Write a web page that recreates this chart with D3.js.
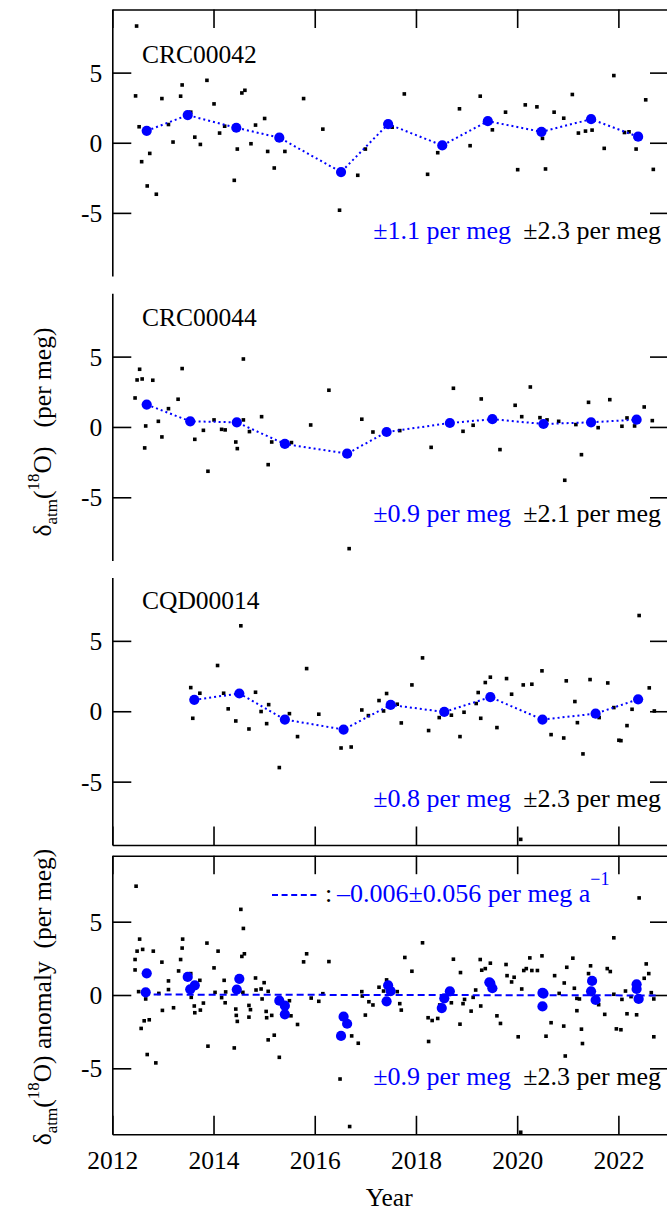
<!DOCTYPE html>
<html><head><meta charset="utf-8">
<script src="https://cdn.jsdelivr.net/npm/d3@7"></script>
<style>
body{margin:0;background:#fff}
svg{display:block}
text{font-family:"Liberation Serif","Times New Roman",Times,serif;white-space:pre}
</style>
</head><body>
<svg id="chart" width="667" height="1214"></svg>
<script>
// ---------------- DATA ----------------
const xDomain = [2012, 2023];
const yDomain = [-9.5, 9.5];
const xTickValues = [2012, 2014, 2016, 2018, 2020, 2022];
const yTickValues = [-5, 0, 5];

const panelNames = ["CRC00042", "CRC00044", "CQD00014", ""];
const meanErrors = ["±1.1 per meg", "±0.9 per meg", "±0.8 per meg", "±0.9 per meg"];
const sampleErrors = ["±2.3 per meg", "±2.1 per meg", "±2.3 per meg", "±2.3 per meg"];

const crc42Samples = [
[2012.48,8.32],[2012.46,3.34],[2012.53,1.14],[2012.58,-1.35],[2012.69,-3.08],[2012.74,-0.76],[2012.87,-3.67],
[2012.98,3.15],[2013.11,1.30],[2013.20,0.05],[2013.35,3.32],[2013.38,4.12],[2013.55,2.18],[2013.63,0.40],
[2013.74,-0.12],[2013.87,4.45],[2014.01,2.77],[2014.12,0.69],[2014.22,1.18],[2014.41,-2.68],[2014.47,-0.45],
[2014.56,3.55],[2014.62,3.74],[2014.74,-0.07],[2014.83,1.26],[2015.01,1.73],[2015.07,-0.62],[2015.20,-1.80],
[2015.41,-0.62],[2015.78,3.15],[2016.16,0.97],[2016.49,-4.81],[2016.85,-2.32],[2017.00,-0.45],
[2017.53,1.11],[2017.77,3.48],[2018.23,-2.25],[2018.43,-0.71],[2018.86,2.42],[2019.07,-0.21],[2019.27,3.32],
[2019.51,0.92],[2019.77,2.18],[2020.01,-1.92],[2020.16,2.70],[2020.39,2.56],[2020.50,0.31],[2020.56,-1.87],
[2020.73,2.18],[2020.92,1.75],[2021.09,3.44],[2021.21,0.69],[2021.35,0.83],[2021.48,0.90],[2021.72,-0.40],
[2021.91,4.79],[2022.12,0.73],[2022.21,0.78],[2022.35,-0.45],[2022.54,3.06],[2022.69,-1.90]
];
const crc42Means = [
[2012.68,0.85],[2013.49,1.97],[2014.45,1.07],[2015.30,0.36],[2016.52,-2.09],[2017.45,1.33],
[2018.52,-0.19],[2019.42,1.54],[2020.48,0.78],[2021.46,1.68],[2022.39,0.43]
];

const crc44Samples = [
[2012.45,2.06],[2012.49,3.34],[2012.54,4.10],[2012.59,3.41],[2012.64,-1.49],[2012.66,0.07],[2012.80,3.32],
[2012.91,0.40],[2012.98,-0.71],[2013.11,1.30],[2013.30,1.97],[2013.38,4.15],[2013.63,-0.88],[2013.80,-0.24],
[2013.89,-3.15],[2014.01,0.50],[2014.16,-0.17],[2014.23,-0.21],[2014.44,-1.07],[2014.47,-1.54],[2014.59,4.83],
[2014.59,0.50],[2014.71,-0.33],[2014.95,0.73],[2015.08,-2.68],[2015.15,-1.07],[2015.54,-1.11],[2015.92,0.14],
[2016.28,2.61],[2016.68,-8.65],[2016.93,0.55],[2017.15,-0.36],[2017.68,-0.26],[2018.30,-1.45],[2018.74,2.75],
[2018.93,-0.31],[2019.13,0.12],[2019.29,1.99],[2019.66,-1.61],[2019.96,1.54],[2020.09,0.73],[2020.26,2.84],
[2020.45,0.66],[2020.59,0.50],[2020.82,0.40],[2020.94,-3.79],[2021.16,0.17],[2021.27,-1.97],[2021.41,1.75],
[2021.60,-0.05],[2021.83,1.94],[2022.07,0.05],[2022.17,0.64],[2022.32,0.07],[2022.51,1.42],[2022.67,0.45]
];
const crc44Means = [
[2012.68,1.59],[2013.54,0.40],[2014.46,0.33],[2015.41,-1.21],[2016.64,-1.90],[2017.42,-0.36],
[2018.67,0.28],[2019.51,0.55],[2020.52,0.21],[2021.46,0.33],[2022.36,0.52]
];

const cqd14Samples = [
[2013.55,1.68],[2013.59,-0.50],[2013.73,1.28],[2014.08,3.25],[2014.20,1.28],[2014.29,0.17],[2014.44,-0.69],
[2014.54,6.07],[2014.70,-1.26],[2014.83,1.35],[2014.94,-0.02],[2015.05,-0.88],[2015.09,0.47],[2015.30,-4.00],
[2015.50,-0.17],[2015.66,-1.80],[2015.84,3.03],[2016.08,-0.21],[2016.52,-2.61],[2016.72,-2.54],[2016.93,0.09],
[2017.06,-0.31],[2017.27,0.76],[2017.36,0.02],[2017.42,1.26],[2017.63,0.50],[2017.71,-0.83],[2017.92,1.87],
[2018.13,3.79],[2018.25,-1.37],[2018.46,-0.45],[2018.70,-0.28],[2018.87,-1.80],[2018.95,-0.07],[2019.19,0.55],
[2019.23,1.33],[2019.28,-0.50],[2019.37,2.04],[2019.47,2.42],[2019.60,-1.16],[2019.79,2.32],[2019.89,1.21],
[2020.07,-9.10],[2020.12,1.87],[2020.29,1.92],[2020.49,2.87],[2020.67,-1.66],[2020.92,-1.90],[2020.97,2.16],
[2021.14,0.69],[2021.19,-0.81],[2021.30,-3.03],[2021.44,2.25],[2021.62,-0.45],[2021.79,2.01],[2021.91,0.26],
[2022.01,-2.06],[2022.05,-2.09],[2022.17,-1.02],[2022.27,0.14],[2022.41,6.80],[2022.61,1.66],[2022.71,0.02]
];
const cqd14Means = [
[2013.62,0.81],[2014.51,1.26],[2015.41,-0.59],[2016.57,-1.30],[2017.50,0.45],[2018.56,-0.05],
[2019.47,1.00],[2020.50,-0.59],[2021.55,-0.17],[2022.39,0.85]
];

const anomalySamples = [
[2012.47,7.42],[2012.54,3.81],[2012.49,2.99],[2012.60,3.11],[2012.45,2.42],[2012.45,1.71],[2012.52,0.23],
[2012.66,-0.27],[2012.57,-2.28],[2012.63,-1.76],[2012.73,-1.69],[2012.69,-4.06],[2012.86,-4.63],[2012.81,2.99],
[2012.92,0.11],[2012.98,2.24],[2012.99,-1.05],[2013.11,0.96],[2013.11,0.37],[2013.21,-0.87],[2013.31,1.64],
[2013.35,2.42],[2013.38,3.20],[2013.39,3.81],[2013.55,1.46],[2013.56,-0.16],[2013.62,-0.75],[2013.63,-1.21],
[2013.73,1.00],[2013.74,-1.03],[2013.80,-0.55],[2013.87,3.54],[2013.89,-3.49],[2014.01,1.85],[2014.03,0.18],
[2014.09,2.99],[2014.16,-0.18],[2014.21,1.00],[2014.23,-0.53],[2014.24,0.21],[2014.41,-3.61],[2014.44,-0.96],
[2014.45,-1.39],[2014.47,-1.80],[2014.54,5.84],[2014.59,4.54],[2014.56,2.63],[2014.61,2.81],[2014.58,0.18],
[2014.70,-0.71],[2014.73,-1.00],[2014.70,-1.51],[2014.83,1.16],[2014.84,0.34],[2014.94,0.41],[2014.96,-0.27],
[2015.00,0.84],[2015.04,-1.12],[2015.05,-1.55],[2015.08,0.25],[2015.08,-3.06],[2015.15,-1.39],[2015.20,-2.74],
[2015.30,-4.25],[2015.50,-0.39],[2015.53,-1.42],[2015.66,-2.01],[2015.78,2.26],[2015.84,2.81],[2015.93,-0.21],
[2016.08,-0.43],[2016.16,0.09],[2016.28,2.28],[2016.50,-5.73],[2016.69,-8.97],[2016.73,-2.79],[2016.86,-3.29],
[2016.93,0.23],[2016.94,-0.07],[2017.00,-1.37],[2017.07,-0.46],[2017.15,-0.68],[2017.27,0.53],[2017.36,0.27],
[2017.42,1.03],[2017.63,0.23],[2017.68,-0.59],[2017.71,-1.03],[2017.78,2.56],[2017.92,1.62],[2018.13,3.56],
[2018.24,-1.55],[2018.25,-3.17],[2018.32,-1.74],[2018.43,-1.60],[2018.47,-0.68],[2018.70,-0.53],[2018.74,2.44],
[2018.88,1.53],[2018.87,-1.99],[2018.93,-0.59],[2018.96,-0.30],[2019.09,-1.10],[2019.13,-0.16],[2019.18,0.34],
[2019.27,2.42],[2019.28,-0.75],[2019.30,1.69],[2019.37,1.80],[2019.47,2.17],[2019.60,-1.42],[2019.67,-1.94],
[2019.78,2.08],[2019.80,1.32],[2019.89,0.89],[2019.94,1.21],[2020.02,-2.85],[2020.07,-9.36],[2020.09,0.41],
[2020.13,1.67],[2020.18,1.80],[2020.25,2.53],[2020.29,1.67],[2020.40,1.67],[2020.49,2.67],[2020.57,-2.81],
[2020.67,-1.89],[2020.74,1.32],[2020.83,0.11],[2020.92,-2.12],[2020.93,0.82],[2020.95,-4.16],[2020.98,1.89],
[2021.10,2.51],[2021.13,0.46],[2021.18,-0.23],[2021.18,-1.07],[2021.23,-0.27],[2021.27,-2.33],[2021.29,-3.31],
[2021.41,1.46],[2021.45,1.99],[2021.61,-0.66],[2021.73,-1.32],[2021.78,1.80],[2021.84,1.60],[2021.91,3.90],
[2021.91,0.05],[2021.96,-2.31],[2022.05,-2.37],[2022.07,-0.30],[2022.14,0.27],[2022.17,-1.28],[2022.25,-0.11],
[2022.36,-1.35],[2022.41,6.62],[2022.51,1.14],[2022.55,2.12],[2022.60,1.46],[2022.65,0.16],[2022.70,-0.27],
[2022.70,-2.85]
];
const anomalyMeans = [
[2012.68,1.48],[2012.66,0.18],
[2013.49,1.23],[2013.54,0.39],[2013.63,0.66],
[2014.46,0.37],[2014.51,1.10],
[2015.30,-0.39],[2015.41,-0.73],[2015.41,-1.32],
[2016.57,-1.48],[2016.64,-1.96],[2016.52,-2.79],
[2017.45,0.66],[2017.50,0.27],[2017.42,-0.43],
[2018.67,0.25],[2018.56,-0.23],[2018.51,-0.89],
[2019.45,0.87],[2019.51,0.46],[2019.47,0.80],
[2020.50,0.14],[2020.52,0.10],[2020.50,-0.78],
[2021.48,0.96],[2021.46,0.25],[2021.55,-0.34],
[2022.36,0.73],[2022.36,0.41],[2022.40,-0.27]
];

// trend of anomalies: slope (per meg / year) and value at reference year
const trendSlope = -0.006;
const trendRefYear = 2017.7;
const trendRefValue = 0.0;
const trendSpan = [2012.6, 2022.8];
const trendLabel = "–0.006±0.056 per meg a";
const trendLabelSup = "−1";

// ---------------- DRAW ----------------
const svg = d3.select("#chart");
const BLUE = "#0000ff";
const FS = 25.5;
const left = 112.3, right = 669;
const panelBoxes = [
  {top: 9.5, bottom: 276, topAxis: true, bottomAxis: false, labelY: 63},
  {top: 293.3, bottom: 560.6, topAxis: false, bottomAxis: false, labelY: 326},
  {top: 577.5, bottom: 845, topAxis: false, bottomAxis: true, labelY: 609},
  {top: 855.7, bottom: 1134.3, topAxis: true, bottomAxis: true, labelY: 0}
];
const samplesList = [crc42Samples, crc44Samples, cqd14Samples, anomalySamples];
const meansList = [crc42Means, crc44Means, cqd14Means, anomalyMeans];

const x = d3.scaleLinear().domain(xDomain).range([left, right]);
const fmtY = d => d < 0 ? "-" + Math.abs(d) : String(d);

function styleAxis(g) {
  g.selectAll("path,line").attr("stroke", "#000").attr("stroke-width", 1.6);
  g.selectAll("text").attr("fill", "#000").style("font-family", '"Liberation Serif",serif').style("font-size", FS + "px");
}

panelBoxes.forEach((p, i) => {
  const y = d3.scaleLinear().domain(yDomain).range([p.bottom, p.top]);
  const g = svg.append("g");

  // left axis
  g.append("g").attr("transform", `translate(${left},0)`)
    .call(d3.axisLeft(y).tickValues(yTickValues).tickSizeInner(-19).tickSizeOuter(0).tickPadding(10).tickFormat(fmtY))
    .call(styleAxis)
    .selectAll("text").attr("dy", "0.34em");
  // right axis
  g.append("g").attr("transform", `translate(${right},0)`)
    .call(d3.axisRight(y).tickValues(yTickValues).tickSizeInner(-19).tickSizeOuter(0).tickFormat(""))
    .call(styleAxis);
  if (p.topAxis) {
    g.append("g").attr("transform", `translate(0,${p.top})`)
      .call(d3.axisTop(x).tickValues(xTickValues).tickSizeInner(-18.5).tickSizeOuter(0).tickFormat(""))
      .call(styleAxis);
  }
  if (p.bottomAxis) {
    const ax = d3.axisBottom(x).tickValues(xTickValues).tickSizeInner(-18.5).tickSizeOuter(0).tickPadding(17);
    if (i !== 3) ax.tickFormat("");
    else ax.tickFormat(d3.format("d"));
    g.append("g").attr("transform", `translate(0,${p.bottom})`).call(ax).call(styleAxis);
  }

  // samples (black squares)
  const sz = 3.6;
  g.append("g").selectAll("rect").data(samplesList[i]).join("rect")
    .attr("x", d => x(d[0]) - sz / 2).attr("y", d => y(d[1]) - sz / 2)
    .attr("width", sz).attr("height", sz).attr("fill", "#000");

  // means
  if (i < 3) {
    const line = d3.line().x(d => x(d[0])).y(d => y(d[1]));
    g.append("path").datum(meansList[i]).attr("d", line)
      .attr("fill", "none").attr("stroke", BLUE).attr("stroke-width", 2)
      .attr("stroke-dasharray", "2,3");
  } else {
    const tline = d3.line().x(d => x(d)).y(d => y(trendRefValue + trendSlope * (d - trendRefYear)));
    g.append("path").datum(trendSpan).attr("d", tline)
      .attr("fill", "none").attr("stroke", BLUE).attr("stroke-width", 2)
      .attr("stroke-dasharray", "7,4");
  }
  g.append("g").selectAll("circle").data(meansList[i]).join("circle")
    .attr("cx", d => x(d[0])).attr("cy", d => y(d[1])).attr("r", 5.1).attr("fill", BLUE);

  // panel name
  if (panelNames[i]) {
    g.append("text").attr("x", 142).attr("y", p.labelY).attr("font-size", FS).text(panelNames[i]);
  }
  // error annotations
  const ey = p.top + 229;
  g.append("text").attr("x", 511).attr("y", ey).attr("text-anchor", "end")
    .attr("font-size", 26).attr("fill", BLUE).text(meanErrors[i]);
  g.append("text").attr("x", 661).attr("y", ey).attr("text-anchor", "end")
    .attr("font-size", 26).attr("fill", "#000").text(sampleErrors[i]);

  if (i === 3) {
    // legend
    const ly = 895;
    g.append("line").attr("x1", 272).attr("x2", 320).attr("y1", ly).attr("y2", ly)
      .attr("stroke", BLUE).attr("stroke-width", 2).attr("stroke-dasharray", "6,3.6");
    g.append("text").attr("x", 325).attr("y", 902).attr("font-size", 26).attr("fill", "#000").text(":");
    const lt = g.append("text").attr("x", 337).attr("y", 902).attr("font-size", 26).attr("fill", BLUE);
    lt.append("tspan").text(trendLabel);
    lt.append("tspan").attr("dy", -17).attr("font-size", 18).text(trendLabelSup);
  }
});

// y titles
function yTitle(cx, cy, mid) {
  const t = svg.append("text").attr("transform", `translate(${cx},${cy}) rotate(-90)`)
    .attr("text-anchor", "middle").attr("font-size", FS).attr("fill", "#000");
  t.append("tspan").text("δ");
  t.append("tspan").attr("font-size", 17).attr("dy", 6).text("atm");
  t.append("tspan").attr("dy", -6).text("(");
  t.append("tspan").attr("font-size", 17).attr("dy", -12).text("18");
  t.append("tspan").attr("dy", 12).text("O)" + mid + "(per meg)");
}
yTitle(51, 432, "\u00a0\u00a0\u00a0");
yTitle(51, 997, " anomaly\u00a0\u00a0");

// x title
svg.append("text").attr("x", (left + right) / 2 - 1.5).attr("y", 1206).attr("text-anchor", "middle")
  .attr("font-size", FS).text("Year");
</script>
</body></html>
